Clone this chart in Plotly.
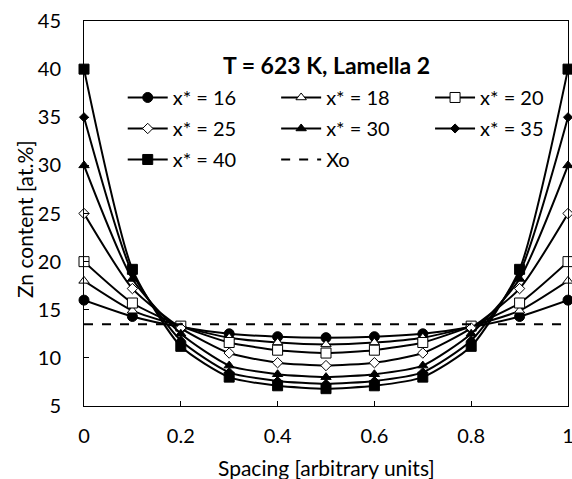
import plotly.graph_objects as go

spacing = [0, 0.1, 0.2, 0.3, 0.4, 0.5, 0.6, 0.7, 0.8, 0.9, 1.0]
x16 = [16, 14.3, 13.2, 12.5, 12.2, 12.1, 12.2, 12.5, 13.2, 14.3, 16]
x18 = [18, 14.9, 13.3, 12.1, 11.6, 11.4, 11.6, 12.1, 13.3, 14.9, 18]
x20 = [20, 15.7, 13.3, 11.6, 10.8, 10.5, 10.8, 11.6, 13.3, 15.7, 20]
x25 = [25, 17.2, 13.1, 10.5, 9.5, 9.2, 9.5, 10.5, 13.1, 17.2, 25]
x30 = [30, 18.2, 12.5, 9.2, 8.3, 8.0, 8.3, 9.2, 12.5, 18.2, 30]
x35 = [35, 18.8, 11.8, 8.5, 7.6, 7.3, 7.6, 8.5, 11.8, 18.8, 35]
x40 = [40, 19.2, 11.2, 8.0, 7.1, 6.8, 7.1, 8.0, 11.2, 19.2, 40]
xo_x = [0, 1]
xo_y = [13.5, 13.5]

names = ["x* = 16", "x* = 18", "x* = 20", "x* = 25", "x* = 30", "x* = 35", "x* = 40"]
series = [x16, x18, x20, x25, x30, x35, x40]
symbols = ["circle", "triangle-up", "square", "diamond", "triangle-up", "diamond", "square"]
fills = ["black", "white", "white", "white", "black", "black", "black"]
sizes = [10, 9, 10, 8, 9, 7, 10]
legends = ["legend", "legend2", "legend3", "legend", "legend2", "legend3", "legend"]

FONT = "Lato"
fig = go.Figure()
for i, (nm, ys) in enumerate(zip(names, series)):
    fig.add_trace(go.Scatter(
        x=spacing, y=ys, name=nm, mode="lines+markers", cliponaxis=False,
        line=dict(color="black", width=2, shape="spline", smoothing=0.6),
        marker=dict(symbol=symbols[i], size=sizes[i], color=fills[i],
                    line=dict(color="black", width=1)),
        legend=legends[i], legendgroup=nm,
    ))
fig.add_trace(go.Scatter(
    x=xo_x, y=xo_y, name="Xo", mode="lines",
    line=dict(color="black", width=2, dash="dash"),
    legend="legend2", legendgroup="Xo",
))

leg_common = dict(font=dict(family=FONT, size=20, color="black"),
                  bgcolor="rgba(0,0,0,0)", tracegroupgap=2,
                  xanchor="left", yanchor="top", itemwidth=40)
fig.update_layout(
    width=572, height=479,
    margin=dict(l=84, r=4, t=21, b=73),
    paper_bgcolor="white", plot_bgcolor="white",
    font=dict(family=FONT, size=20, color="black"),
    showlegend=True,
    legend=dict(x=0.08, y=0.852, **leg_common),
    legend2=dict(x=0.397, y=0.852, **leg_common),
    legend3=dict(x=0.715, y=0.852, **leg_common),
    xaxis=dict(range=[0, 1], tickvals=[0, 0.2, 0.4, 0.6, 0.8, 1],
               ticktext=["0", "0.2", "0.4", "0.6", "0.8", "1"],
               ticks="inside", ticklen=5, tickcolor="black", automargin=False,
               tickfont=dict(size=20), ticklabelstandoff=12, ticklabeloverflow="allow",
               showline=True, linecolor="black", linewidth=1, mirror=True,
               showgrid=False, zeroline=False),
    yaxis=dict(range=[5, 45], dtick=5, ticks="inside", ticklen=5, tickcolor="black",
               automargin=False, tickfont=dict(size=20), ticklabelstandoff=18,
               ticklabeloverflow="allow",
               showline=True, linecolor="black", linewidth=1, mirror=True,
               showgrid=False, zeroline=False),
    annotations=[
        dict(text="<b>T = 623 K, Lamella 2</b>", xref="paper", yref="paper",
             x=0.5, y=0.886, xanchor="center", yanchor="middle", showarrow=False,
             font=dict(family=FONT, size=23, color="black")),
        dict(text="Spacing [arbitrary units]", xref="paper", yref="paper",
             x=0.5, y=-(467 - 406) / 385, xanchor="center", yanchor="middle",
             showarrow=False, font=dict(family=FONT, size=21, color="black")),
        dict(text="Zn content [at.%]", xref="paper", yref="paper", textangle=-90,
             x=-(84 - 25) / 484, y=(406 - 219) / 385, xanchor="center", yanchor="middle",
             showarrow=False, font=dict(family=FONT, size=21, color="black")),
    ],
)
fig.write_html(
    "out.html",
    config={"displayModeBar": False},
    post_script="document.body.style.margin='0';document.body.style.overflow='hidden';",
)
